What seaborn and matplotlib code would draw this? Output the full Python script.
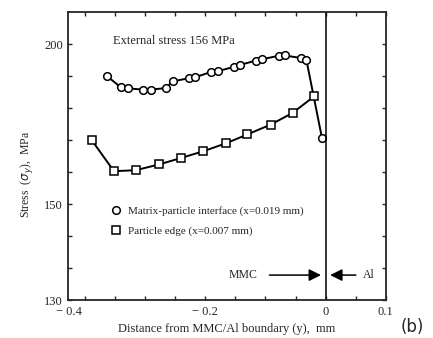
import numpy as np
import pandas as pd
import matplotlib
matplotlib.use('Agg')
import matplotlib.pyplot as plt
from matplotlib.lines import Line2D
from matplotlib.ticker import MultipleLocator
from matplotlib.transforms import ScaledTranslation
import seaborn as sns

# data
circle_x = [-0.364, -0.341, -0.328, -0.303, -0.291, -0.266, -0.254, -0.227, -0.217, -0.191,
            -0.179, -0.153, -0.143, -0.116, -0.106, -0.078, -0.068, -0.041, -0.032, -0.006]
circle_y = [190.1, 186.6, 186.2, 185.8, 185.8, 186.3, 188.4, 189.4, 189.7, 191.3,
            191.6, 192.9, 193.5, 194.9, 195.3, 196.4, 196.5, 195.7, 195.2, 170.7]
square_x = [-0.389, -0.352, -0.316, -0.277, -0.241, -0.204, -0.166, -0.130, -0.091, -0.055, -0.019]
square_y = [170.0, 160.3, 160.6, 162.4, 164.4, 166.5, 169.0, 171.8, 174.9, 178.5, 183.7]

circle_label = 'Matrix-particle interface (x=0.019 mm)'
square_label = 'Particle edge (x=0.007 mm)'
ytick_vals = [120, 150, 200]
ytick_text = ['130', '150', '200']
xtick_vals = [-0.4, -0.2, 0, 0.1]
xtick_text = ['\u2212 0.4', '\u2212 0.2', '0', '0.1']

sns.set_style('ticks')
plt.rcParams['font.family'] = ['Liberation Serif', 'DejaVu Serif']

fig = plt.figure(figsize=(4.33, 3.38), dpi=100)
ax = fig.add_axes([0.1577, 0.1124, 0.733, 0.8512])

df_c = pd.DataFrame({'x': circle_x, 'y': circle_y})
df_s = pd.DataFrame({'x': square_x, 'y': square_y})
mk = dict(markerfacecolor='white', markeredgecolor='black', markeredgewidth=1.1, markersize=5.5)
sns.lineplot(data=df_c, x='x', y='y', ax=ax, color='black', lw=1.4, marker='o', sort=False, **mk)
sns.lineplot(data=df_s, x='x', y='y', ax=ax, color='black', lw=1.4, marker='s', sort=False, **mk)

ax.axvline(0, color='black', lw=1.1)

ax.set_xlim(-0.428, 0.1)
ax.set_ylim(120, 210)
ax.set_xticks(xtick_vals)
ax.set_xticklabels(xtick_text)
ax.xaxis.set_minor_locator(MultipleLocator(0.05))
ax.set_yticks(ytick_vals)
ax.set_yticklabels(ytick_text)
ax.set_yticks([130, 140, 160, 170, 180, 190], minor=True)
ax.tick_params(which='both', direction='in', top=True, right=True, length=3, width=1,
               labelsize=9, pad=4)
for s in ax.spines.values():
    s.set_linewidth(1.3)

# the -0.4 label sits near the left spine in the original
lbl = ax.get_xticklabels()[0]
lbl.set_transform(lbl.get_transform() + ScaledTranslation(-0.16, 0, fig.dpi_scale_trans))

ax.set_xlabel('Distance from MMC/Al boundary (y),  mm', fontsize=9, labelpad=4)
ax.set_ylabel('Stress  ($\\sigma_y$),  MPa', fontsize=8.5)
ax.yaxis.set_label_coords(-0.105, 0.435)

ax.text(-0.353, 201, 'External stress 156 MPa', fontsize=9, va='center', ha='left')

handles = [Line2D([], [], ls='none', marker='o', color='black', **mk),
           Line2D([], [], ls='none', marker='s', color='black', **mk)]
ax.legend(handles, [circle_label, square_label], loc='upper left', bbox_to_anchor=(0.10, 0.36),
          frameon=False, fontsize=8, handlelength=1.0, handletextpad=0.6, labelspacing=0.9)

# boundary arrows
ax.annotate('', xy=(-0.003, 127.8), xytext=(-0.098, 127.8),
            arrowprops=dict(arrowstyle='-|>,head_length=0.6,head_width=0.3', color='black',
                            lw=1.1, mutation_scale=12))
ax.annotate('', xy=(0.003, 127.8), xytext=(0.055, 127.8),
            arrowprops=dict(arrowstyle='-|>,head_length=0.6,head_width=0.3', color='black',
                            lw=1.1, mutation_scale=12))
ax.text(-0.138, 127.8, 'MMC', fontsize=8.5, ha='center', va='center')
ax.text(0.062, 127.8, 'Al', fontsize=8.5, ha='left', va='center')

fig.text(0.952, 0.018, '(b)', fontsize=12, family='DejaVu Sans', ha='center', va='baseline')

fig.savefig('out.png', dpi=100)
